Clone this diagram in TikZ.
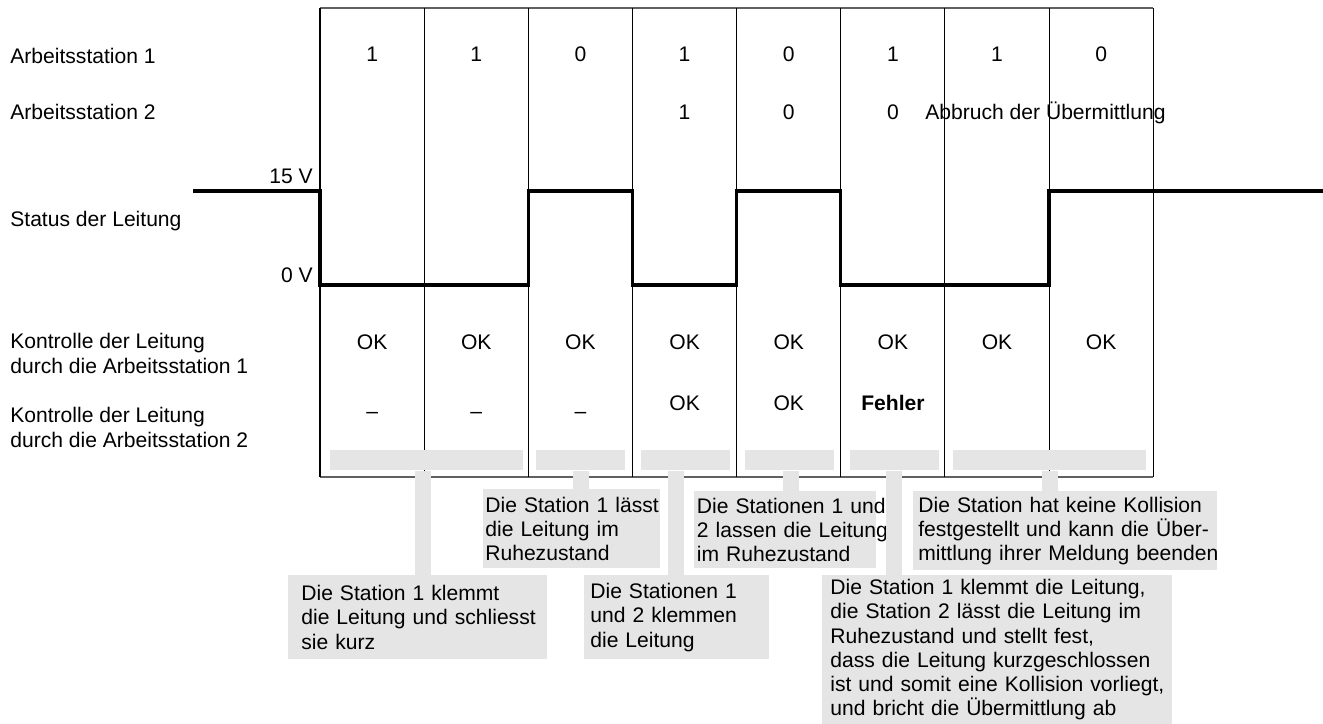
\documentclass[tikz,border=0pt]{standalone}
\usepackage{fontspec}
\setmainfont{Liberation Sans}
\usetikzlibrary{calc}
\definecolor{CalloutClr}{RGB}{229,229,229}
\definecolor{GridClr}{RGB}{96,96,96}
\newcommand{\pxu}{0.02cm}

\begin{document}
\begin{tikzpicture}[x=\pxu,y=-\pxu,
  font=\fontsize{12pt}{13.8pt}\selectfont,
  val/.style={anchor=base,inner sep=0pt},
  lbl/.style={anchor=base west,inner sep=0pt,align=left},
  bar/.style={fill=CalloutClr,anchor=north west,inner sep=0pt,minimum height=0.4cm},
  callout/.style={fill=CalloutClr,anchor=north west,align=left,inner ysep=0pt},
  stem/.style={draw=CalloutClr,line width=0.32cm},
  signal/.style={line width=1.9pt,line join=miter}]
\useasboundingbox (0,0) rectangle (1323,724);

% time slots
\draw[GridClr,line width=0.6pt] (320,8) -- (1153.2,8) (320,477) -- (1153.2,477);
\foreach \i in {0,...,8}
  \draw[line width=0.6pt] ({320+104.15*\i},8) -- ({320+104.15*\i},477);

\node[lbl] (as1) at (10,63) {Arbeitsstation 1};
\node[lbl] (as2) at (10,119) {Arbeitsstation 2};
\node[lbl] (stat) at (10,226) {Status der Leitung};
\node[lbl] (ctl1) at (10,373) {Kontrolle der Leitung\\durch die Arbeitsstation 1};
\node[lbl] (ctl2) at (10,447) {Kontrolle der Leitung\\durch die Arbeitsstation 2};

\foreach \v [count=\i] in {1,1,0,1,0,1,1,0}
  \node[val] (bitA\i) at ({268+104.15*\i},61) {\v};
\foreach \v/\i in {1/4,0/5,0/6}
  \node[val] (bitB\i) at ({268+104.15*\i},119) {\v};
\node[anchor=base west,inner sep=0pt] (abort) at (925,119) {Abbruch der Übermittlung};

% line level
\draw[signal] (193,191) -| (320,285) -| (528.3,191) -| (632.45,285)
  -| (736.6,191) -| (840.75,285) -| (1049.05,191) -- (1323,191);
\node[anchor=base east,inner sep=0pt] (hi) at (313,183) {15 V};
\node[anchor=base east,inner sep=0pt] (lo) at (313,282) {0 V};

\foreach \i in {1,...,8}
  \node[val] (okA\i) at ({268+104.15*\i},349) {OK};
\foreach \i in {1,2,3}
  \node[val] (okB\i) at ({268+104.15*\i},418) {\textendash};
\node[val] (okB4) at ({268+104.15*4},410) {OK};
\node[val] (okB5) at ({268+104.15*5},410) {OK};
\node[val] (okB6) at ({268+104.15*6},410) {\textbf{Fehler}};

\foreach \n/\x/\w in {1/330/3.86,2/536/1.78,3/641/1.78,4/745/1.78,5/850/1.78,6/953/3.86}
  \node[bar,minimum width=\w cm] (bar\n) at (\x,450) {};

\node[callout,inner xsep=0.04cm,text width=3.46cm,minimum height=1.58cm] (idle1) at (483,489)
  {\mbox{Die Station 1 lässt}\\die Leitung im\\Ruhezustand};
\node[callout,inner xsep=0.05cm,text width=3.54cm,minimum height=1.54cm] (idle2) at (694,491)
  {\mbox{Die Stationen 1 und}\\\mbox{2 lassen die Leitung}\\im Ruhezustand};
\node[callout,inner xsep=0.1cm,text width=5.88cm,minimum height=1.58cm] (done) at (913,491)
  {Die Station hat keine Kollision\\festgestellt und kann die Über-\\\mbox{mittlung ihrer Meldung beenden}};
\node[callout,inner xsep=0.26cm,text width=4.66cm,minimum height=1.68cm] (clamp1) at (288,575)
  {Die Station 1 klemmt\\\mbox{die Leitung und schliesst}\\sie kurz};
\node[callout,inner xsep=0.12cm,text width=3.46cm,minimum height=1.68cm] (clamp2) at (584,575)
  {Die Stationen 1\\und 2 klemmen\\die Leitung};
\node[callout,inner xsep=0.16cm,text width=6.68cm,minimum height=2.98cm] (collide) at (822,575)
  {\mbox{Die Station 1 klemmt die Leitung,}\\\mbox{die Station 2 lässt die Leitung im}\\
   Ruhezustand und stellt fest,\\\mbox{dass die Leitung kurzgeschlossen}\\
   \mbox{ist und somit eine Kollision vorliegt,}\\\mbox{und bricht die Übermittlung ab}};

\foreach \barnm/\boxnm/\dx in {bar1/clamp1/-3.5,bar2/idle1/0,bar3/clamp2/-9.5,bar4/idle2/1,bar5/collide/-1,bar6/done/0}
  \draw[stem] ([xshift=\dx*\pxu]\barnm.south) -- ([xshift=\dx*\pxu]\barnm.south |- \boxnm.north);
% \draw[red] (0,0) grid[step=50] (1323,724);
\end{tikzpicture}
\end{document}
